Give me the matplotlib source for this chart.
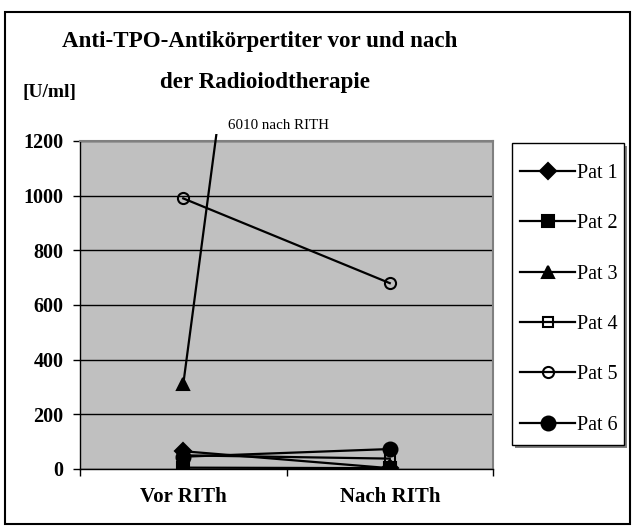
import numpy as np
import matplotlib.pyplot as plt
from matplotlib.patches import Rectangle

plt.rcParams['font.family'] = ['Liberation Serif', 'DejaVu Serif']

# data
categories = ["Vor RITh", "Nach RITh"]
pat1 = [65, 3]
pat2 = [5, 3]
pat3 = [310, 6010]
pat4 = [50, 38]
pat5 = [990, 680]
pat6 = [45, 73]
labels = ["Pat 1", "Pat 2", "Pat 3", "Pat 4", "Pat 5", "Pat 6"]
series = [pat1, pat2, pat3, pat4, pat5, pat6]
markers = ["D", "s", "^", "s", "o", "o"]
filled = [True, True, True, False, False, True]
msizes = [8, 9, 9, 7, 8, 10]

W, H = 638, 530
fig = plt.figure(figsize=(W / 100, H / 100), dpi=100)
ax = fig.add_axes([80 / W, 1 - 469 / H, (493 - 80) / W, (469 - 141) / H])
ax.set_facecolor("#c0c0c0")

# let the steep line poke slightly above the plot area, like the original
clip = Rectangle((0, 0), 1, 1.022, transform=ax.transAxes, visible=False)
ax.add_patch(clip)

x = np.arange(len(categories))
handles = []
for vals, lab, m, f, ms in zip(series, labels, markers, filled, msizes):
    h, = ax.plot(x, vals, color="black", linewidth=1.6, marker=m, markersize=ms,
                 markerfacecolor="black" if f else "none", markeredgecolor="black",
                 markeredgewidth=1.5, label=lab, zorder=3)
    h.set_clip_path(clip)
    handles.append(h)

ax.set_xlim(-0.5, 1.5)
ax.set_ylim(0, 1200)
ax.set_yticks(np.arange(0, 1201, 200))
ax.yaxis.grid(True, color="black", linewidth=1)
ax.set_axisbelow(True)
ax.set_xticks([-0.5, 0.5, 1.5], minor=False)
ax.set_xticklabels([])
ax.set_xticks(x, minor=True)
ax.set_xticklabels(categories, minor=True, fontsize=15, fontweight="bold")
ax.tick_params(axis="x", which="minor", length=0, pad=13)
ax.tick_params(axis="x", which="major", length=5, width=1)
ax.tick_params(axis="y", length=5, width=1, labelsize=14.5, pad=7)
for t in ax.get_yticklabels():
    t.set_fontweight("bold")
for s in ["top", "right"]:
    ax.spines[s].set_color("#808080")
    ax.spines[s].set_linewidth(1.5)
for s in ["left", "bottom"]:
    ax.spines[s].set_color("black")
    ax.spines[s].set_linewidth(1)

# annotation for the off-scale value
fig.text(228 / W, 1 - 129 / H, "6010 nach RITH", fontsize=10.8, ha="left", va="baseline")

fig.text(260 / W, 1 - 47 / H, "Anti-TPO-Antikörpertiter vor und nach", ha="center",
         va="baseline", fontsize=16.6, fontweight="bold")
fig.text(265 / W, 1 - 88 / H, "der Radioiodtherapie", ha="center",
         va="baseline", fontsize=16.6, fontweight="bold")
fig.text(22 / W, 1 - 97 / H, "[U/ml]", ha="left", va="baseline", fontsize=14, fontweight="bold")

# legend box with shadow
fig.add_artist(Rectangle((515 / W, 1 - 448 / H), 112 / W, 302 / H, transform=fig.transFigure,
                         facecolor="#808080", edgecolor="none"))
fig.add_artist(Rectangle((512 / W, 1 - 445 / H), 112 / W, 302 / H, transform=fig.transFigure,
                         facecolor="white", edgecolor="black", linewidth=1))
leg = fig.legend(handles=handles, loc="upper left", bbox_to_anchor=(520 / W, 1 - 164 / H),
                 frameon=False, fontsize=14.5, labelspacing=1.55, handlelength=2.75,
                 handletextpad=0.1, borderpad=0, borderaxespad=0)

fig.add_artist(Rectangle((5 / W, 1 - 524 / H), 625 / W, 512 / H, transform=fig.transFigure,
                         fill=False, edgecolor="black", linewidth=1.5))

plt.savefig("out.png", dpi=100)
